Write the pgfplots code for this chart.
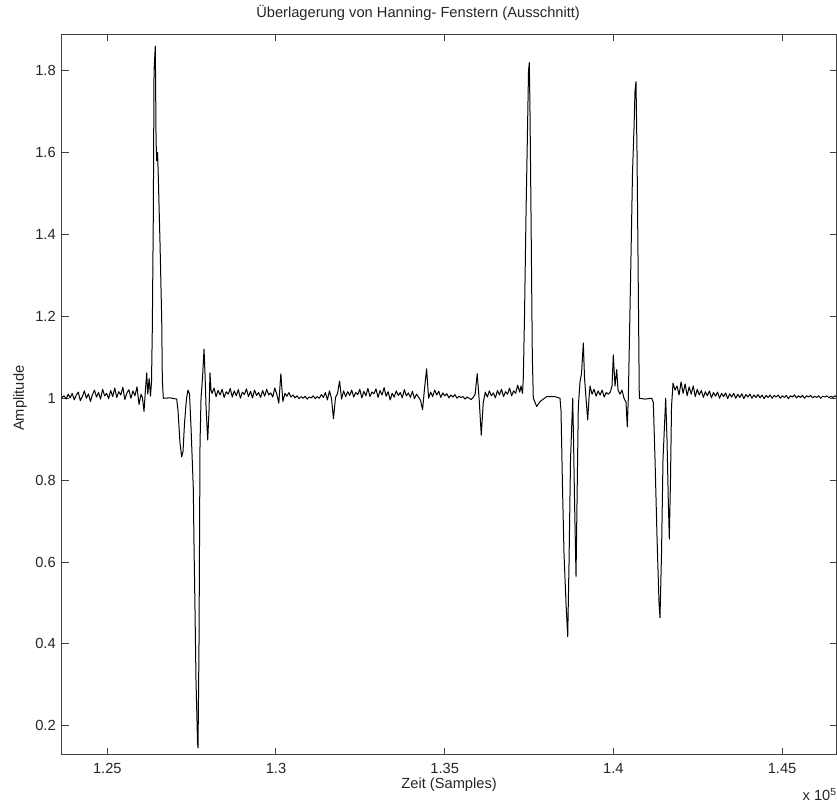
\documentclass[border=0pt]{standalone}
\usepackage{pgfplots}
\pgfplotsset{compat=1.18}
\usepackage{pgfplotstable}
\usepackage{fontspec}
\setmainfont{Liberation Sans}

% Superposition of Hanning windows, detail: sample index vs. amplitude
\pgfplotstableread{
x y
123660 1.002
123720 1.006
123780 0.998
123840 1.010
123900 1.001
123960 1.012
124020 0.996
124080 1.008
124140 1.015
124200 0.994
124260 1.004
124320 1.018
124380 1.000
124440 1.011
124500 0.992
124560 1.009
124620 1.020
124680 1.003
124740 1.014
124800 0.998
124860 1.022
124920 1.006
124980 1.012
125040 0.999
125100 1.019
125160 1.004
125220 1.025
125280 1.002
125340 1.016
125400 1.008
125460 1.027
125520 0.997
125580 1.013
125640 1.021
125700 1.000
125760 1.018
125820 1.006
125880 1.028
125940 0.985
126000 1.010
126040 1.002
126088 0.968
126130 1.020
126168 1.062
126200 1.010
126240 1.048
126280 1.005
126310 1.040
126334 1.170
126364 1.450
126385 1.800
126423 1.860
126445 1.630
126465 1.580
126490 1.600
126512 1.540
126562 1.380
126613 1.190
126631 1.045
126660 1.000
126860 1.001
127057 0.998
127096 0.970
127155 0.890
127206 0.857
127244 0.870
127289 0.940
127348 1.000
127392 1.020
127437 1.010
127481 0.930
127549 0.780
127570 0.640
127600 0.480
127629 0.310
127674 0.160
127689 0.146
127718 0.400
127748 0.890
127778 1.000
127822 1.050
127867 1.120
127896 1.060
127926 0.980
127976 0.898
128015 0.970
128044 1.062
128074 1.020
128104 1.012
128164 1.025
128224 1.004
128284 1.019
128344 1.008
128404 1.022
128464 1.002
128524 1.016
128584 1.010
128644 1.024
128704 1.003
128764 1.018
128824 1.006
128884 1.021
128944 1.000
129004 1.015
129064 1.009
129124 1.023
129184 1.004
129244 1.017
129304 1.001
129364 1.020
129424 1.007
129484 1.014
129544 1.002
129604 1.019
129664 1.005
129724 1.022
129784 1.008
129844 1.013
129904 1.003
129964 1.025
130024 1.010
130084 0.988
130144 1.060
130204 0.992
130264 1.012
130324 1.005
130384 1.014
130444 1.003
130504 1.008
130564 1.001
130624 1.006
130684 0.999
130744 1.004
130804 1.000
130864 1.005
130924 0.998
130984 1.003
131044 1.001
131104 1.006
131164 0.999
131224 1.004
131284 1.000
131344 1.009
131404 1.002
131464 1.014
131524 0.996
131584 1.018
131644 1.000
131704 0.950
131764 1.002
131824 1.012
131884 1.042
131944 0.998
132004 1.018
132064 1.004
132124 1.016
132184 1.007
132244 1.020
132304 1.003
132364 1.014
132424 1.009
132484 1.022
132544 1.001
132604 1.017
132664 1.006
132724 1.024
132784 1.004
132844 1.015
132904 1.011
132964 1.023
133024 1.002
133084 1.019
133144 1.008
133204 1.026
133264 1.005
133324 1.016
133384 0.996
133444 1.012
133504 1.003
133564 1.018
133624 1.007
133684 1.014
133744 1.001
133804 1.021
133864 1.006
133924 1.013
133984 1.002
134044 1.017
134104 0.999
134164 1.010
134224 1.003
134284 0.995
134344 0.972
134404 1.025
134464 1.072
134524 1.000
134584 1.015
134644 1.004
134704 1.020
134764 1.008
134824 1.017
134884 1.002
134944 1.013
135004 1.006
135064 1.011
135124 1.001
135184 1.008
135244 1.003
135304 1.009
135364 1.000
135424 1.005
135484 1.002
135544 1.004
135604 0.998
135664 1.003
135724 1.000
135784 0.997
135844 1.002
135904 1.010
135964 1.060
136024 0.995
136084 0.910
136144 0.990
136204 1.015
136264 1.003
136324 1.018
136384 1.006
136444 1.013
136504 1.001
136564 1.019
136624 1.008
136684 1.022
136744 1.004
136804 1.016
136864 1.010
136924 1.025
136984 1.006
137044 1.018
137104 1.012
137164 1.032
137224 1.015
137262 1.030
137307 1.012
137331 1.050
137366 1.200
137411 1.450
137456 1.660
137485 1.800
137509 1.820
137529 1.700
137559 1.450
137598 1.100
137627 1.000
137728 0.980
137826 0.992
138024 1.004
138270 1.004
138418 1.000
138448 0.970
138493 0.780
138537 0.620
138596 0.500
138647 0.418
138686 0.600
138730 0.850
138795 1.000
138819 0.900
138849 0.750
138893 0.565
138923 0.750
138961 0.980
139011 1.040
139056 1.060
139109 1.135
139145 1.050
139189 1.000
139239 0.947
139278 1.000
139308 1.030
139368 1.010
139428 1.022
139488 1.005
139548 1.018
139608 1.008
139668 1.020
139728 1.003
139788 1.014
139848 1.010
139908 1.015
139960 1.030
139998 1.106
140049 1.030
140099 1.070
140138 1.020
140197 1.010
140256 1.020
140315 1.000
140375 0.990
140413 0.930
140443 1.000
140478 1.150
140523 1.350
140567 1.550
140612 1.660
140641 1.750
140671 1.773
140701 1.600
140730 1.350
140769 1.000
140938 0.998
141137 1.000
141184 0.990
141235 0.850
141294 0.660
141353 0.500
141382 0.464
141427 0.620
141471 0.850
141551 1.000
141590 0.900
141628 0.750
141658 0.656
141693 0.800
141724 0.980
141768 1.037
141827 1.020
141887 1.030
141947 1.008
142007 1.040
142067 1.012
142127 1.035
142187 1.006
142247 1.028
142307 1.010
142367 1.030
142427 1.004
142487 1.022
142547 1.008
142607 1.019
142667 1.002
142727 1.016
142787 1.006
142847 1.018
142907 1.001
142967 1.014
143027 1.005
143087 1.015
143147 1.000
143207 1.012
143267 1.004
143327 1.013
143387 0.999
143447 1.011
143507 1.003
143567 1.012
143627 1.000
143687 1.010
143747 1.002
143807 1.011
143867 0.999
143927 1.009
143987 1.003
144047 1.010
144107 1.000
144167 1.008
144227 1.002
144287 1.009
144347 1.001
144407 1.008
144467 0.999
144527 1.007
144587 1.002
144647 1.008
144707 1.000
144767 1.007
144827 1.003
144887 1.008
144947 1.000
145007 1.006
145067 1.002
145127 1.007
145187 0.999
145247 1.006
145307 1.003
145367 1.008
145427 1.001
145487 1.006
145547 1.002
145607 1.007
145667 1.000
145727 1.006
145787 1.003
145847 1.007
145907 1.001
145967 1.005
146027 1.002
146087 1.006
146147 1.000
146207 1.005
146267 1.003
146327 1.006
146387 1.001
146447 1.005
146507 1.002
146567 1.006
146627 1.003
146687 1.005
}\signal

\begin{document}
\begin{tikzpicture}[every node/.style={font=\fontsize{11}{13}\selectfont, text=black!85}]
\begin{axis}[
  name=ax,
  scale only axis,
  width=581.1pt, height=540.5pt,
  xmin=123649, xmax=146614,
  ymin=0.129, ymax=1.889,
  axis line style={black!75, line width=0.75pt},
  tick style={black!75, line width=0.75pt},
  tick align=inside,
  major tick length=5.25pt,
  scaled x ticks=false,
  xtick={125000,130000,135000,140000,145000},
  xticklabels={1.25,1.3,1.35,1.4,1.45},
  ytick={0.2,0.4,0.6,0.8,1,1.2,1.4,1.6,1.8},
  yticklabels={0.2,0.4,0.6,0.8,1,1.2,1.4,1.6,1.8},
  ticklabel style={font=\fontsize{11}{13}\selectfont, text=black!85},
  xticklabel style={anchor=north, inner sep=0pt, yshift=-6pt},
  yticklabel style={anchor=east, inner sep=0pt, xshift=-4.3pt},
  xlabel={Zeit (Samples)},
  xlabel style={at={(axis description cs:0.5,-0.0472)}, anchor=base, inner sep=0pt,
    font=\fontsize{11}{13}\selectfont, text=black!85},
  ylabel={Amplitude},
  ylabel style={at={(axis description cs:-0.0538,0.495)}, anchor=center, inner sep=0pt,
    font=\fontsize{11}{13}\selectfont, text=black!85},
]
\addplot[black, line width=0.75pt, line join=round, mark=none] table[x=x, y=y] {\signal};
\end{axis}
% title above the axis box and the exponent of the x ticks below its right corner
\node[anchor=base, inner sep=0pt] at ([xshift=-23.25pt, yshift=12.9pt]ax.north)
  {Überlagerung von Hanning- Fenstern (Ausschnitt)};
\node[anchor=base east, inner sep=0pt] at ([xshift=0.375pt, yshift=-34.2pt]ax.south east)
  {x 10\textsuperscript{5}};
\pgfresetboundingbox
\path[use as bounding box] ([xshift=-46.3pt, yshift=-35.25pt]ax.south west)
  rectangle ([xshift=0.375pt, yshift=25.7pt]ax.north east);
\end{tikzpicture}
\end{document}
